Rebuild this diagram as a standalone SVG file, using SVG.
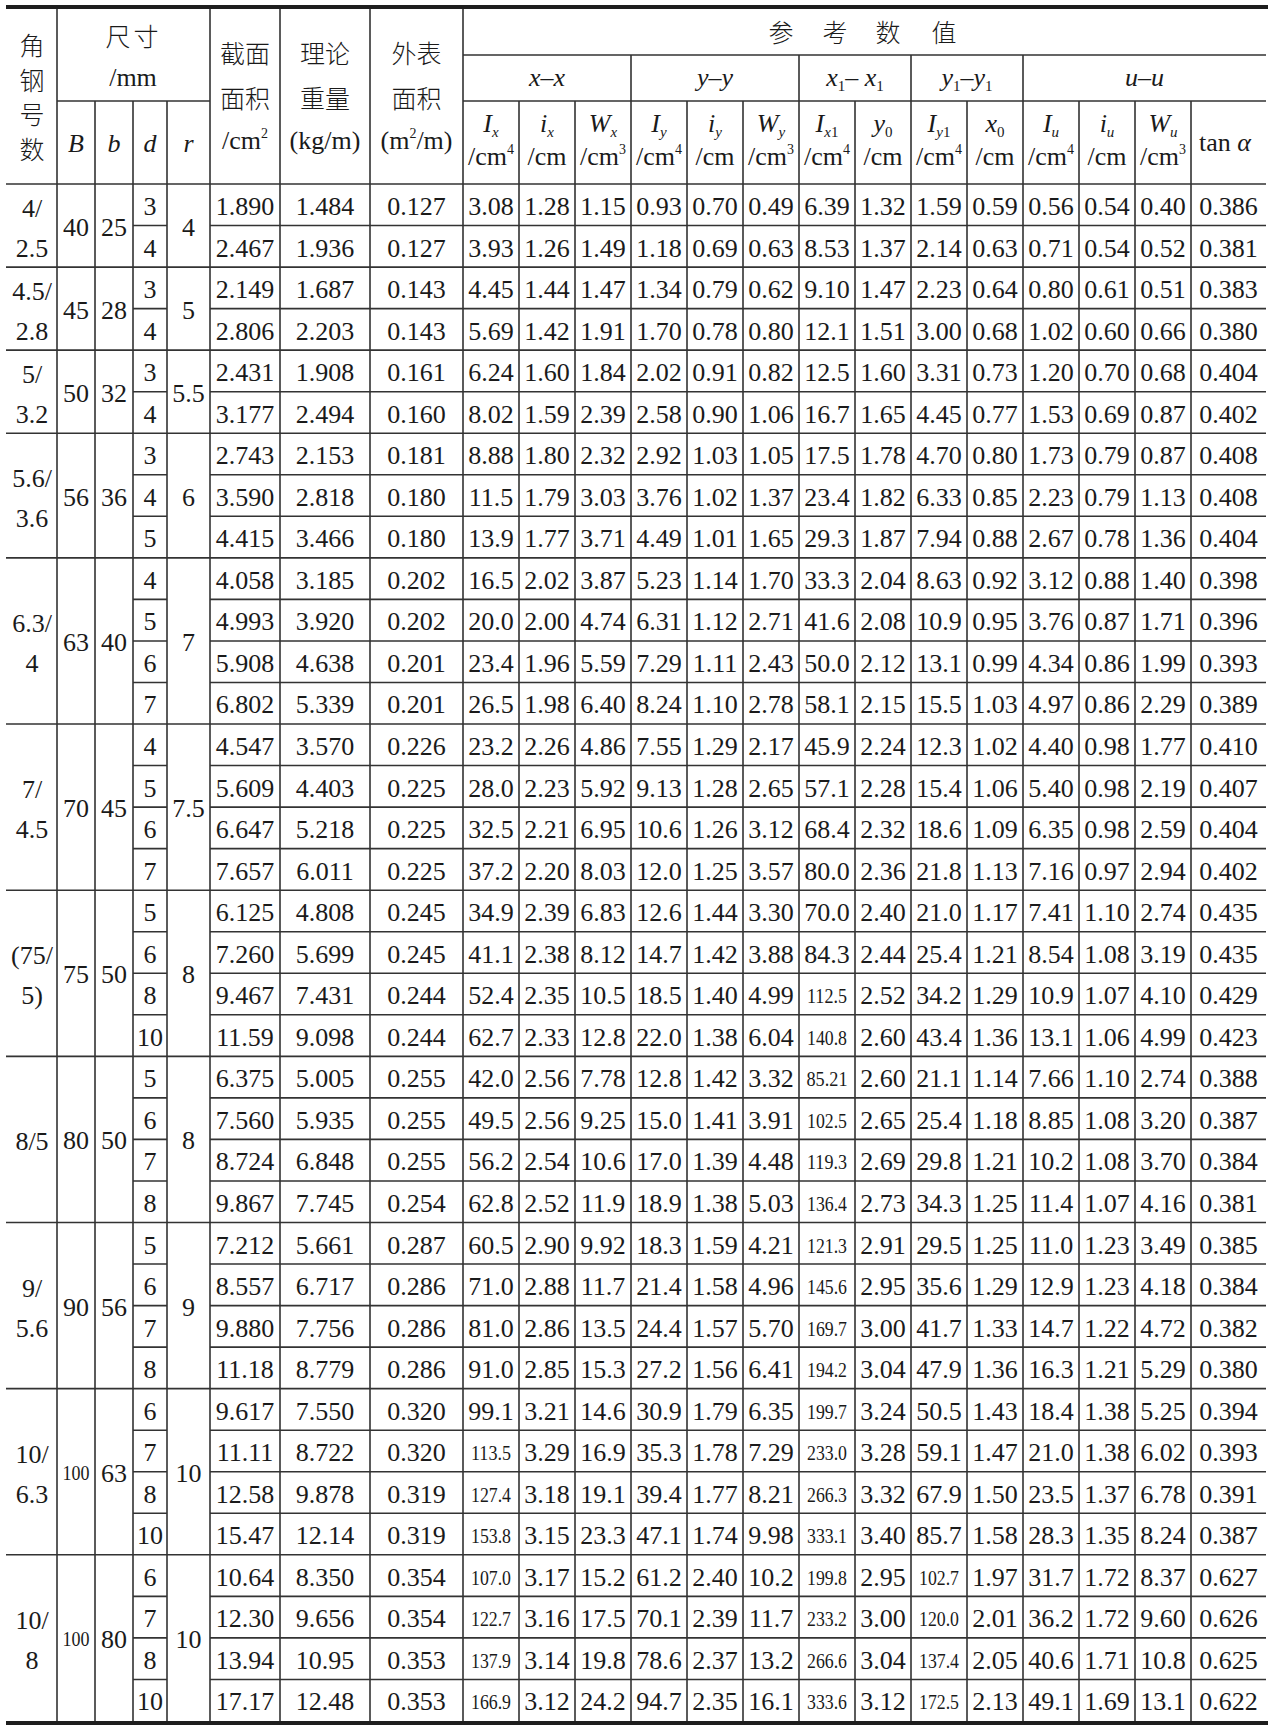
<svg xmlns="http://www.w3.org/2000/svg" width="1270" height="1727" viewBox="0 0 1270 1727">
<style>
text{font-family:"Liberation Serif","Noto Sans CJK SC",serif;font-size:26px;fill:#1a1a1a;text-anchor:middle}
.c{font-family:"Noto Sans CJK SC","Liberation Serif",sans-serif;font-size:25px;font-weight:300}
.i{font-style:italic}
.sb{font-size:15px}
.sp{font-size:14px}
.s{font-size:20px}
.ln{fill:none;stroke:#333;stroke-width:1.6}
.tk{fill:none;stroke:#1e1e1e;stroke-width:4}
</style>
<rect width="1270" height="1727" fill="#fff"/>
<g id="grid">
<path class="tk" d="M6 7H1268M6 1723H1268"/>
<path class="ln" d="M57 9V1721M95 101V1721M133 101V1721M167 101V1721M210 9V1721M280 9V1721M370 9V1721M463 9V1721M519 101V1721M575 101V1721M631 55V1721M687 101V1721M743 101V1721M799 55V1721M855 101V1721M911 55V1721M967 101V1721M1023 55V1721M1079 101V1721M1135 101V1721M1191 101V1721"/>
<path class="ln" d="M463 55H1266M57 101H210M463 101H1266M6 184H1266M6 267.08H1266M6 350.16H1266M6 433.24H1266M6 557.86H1266M6 724.02H1266M6 890.18H1266M6 1056.34H1266M6 1222.5H1266M6 1388.66H1266M6 1554.82H1266"/>
<path class="ln" d="M133 225.54H167M210 225.54H1266M133 308.62H167M210 308.62H1266M133 391.7H167M210 391.7H1266M133 474.78H167M210 474.78H1266M133 516.32H167M210 516.32H1266M133 599.4H167M210 599.4H1266M133 640.94H167M210 640.94H1266M133 682.48H167M210 682.48H1266M133 765.56H167M210 765.56H1266M133 807.1H167M210 807.1H1266M133 848.64H167M210 848.64H1266M133 931.72H167M210 931.72H1266M133 973.26H167M210 973.26H1266M133 1014.8H167M210 1014.8H1266M133 1097.88H167M210 1097.88H1266M133 1139.42H167M210 1139.42H1266M133 1180.96H167M210 1180.96H1266M133 1264.04H167M210 1264.04H1266M133 1305.58H167M210 1305.58H1266M133 1347.12H167M210 1347.12H1266M133 1430.2H167M210 1430.2H1266M133 1471.74H167M210 1471.74H1266M133 1513.28H167M210 1513.28H1266M133 1596.36H167M210 1596.36H1266M133 1637.9H167M210 1637.9H1266M133 1679.44H167M210 1679.44H1266"/>
</g>
<g id="header">
<g id="h-angle"><text class="c" x="32" y="55">角</text><text class="c" x="32" y="89.5">钢</text><text class="c" x="32" y="124">号</text><text class="c" x="32" y="158.5">数</text></g>
<g id="h-size"><text class="c" x="133.5" y="46" letter-spacing="3">尺寸</text><text x="133" y="86">/mm</text>
<text class="i" x="76" y="152">B</text><text class="i" x="114" y="152">b</text><text class="i" x="150" y="152">d</text><text class="i" x="188.5" y="152">r</text></g>
<g id="h-area"><text class="c" x="245" y="63">截面</text><text class="c" x="245" y="108">面积</text><text x="245" y="149">/cm<tspan class="sp" dy="-11">2</tspan></text></g>
<g id="h-weight"><text class="c" x="325" y="63">理论</text><text class="c" x="325" y="108">重量</text><text x="325" y="149">(kg/m)</text></g>
<g id="h-outer"><text class="c" x="416.5" y="63">外表</text><text class="c" x="416.5" y="108">面积</text><text x="416.5" y="149">(m<tspan class="sp" dy="-11">2</tspan><tspan dy="11">/m)</tspan></text></g>
<g id="h-ref"><text class="c" x="781 835 888 944" y="42">参考数值</text></g>
<g id="h-axes">
<text x="547" y="86"><tspan class="i">x</tspan>–<tspan class="i">x</tspan></text>
<text x="715" y="86"><tspan class="i">y</tspan>–<tspan class="i">y</tspan></text>
<text x="855" y="86"><tspan class="i">x</tspan><tspan class="sb" dy="5">1</tspan><tspan dy="-5">– </tspan><tspan class="i">x</tspan><tspan class="sb" dy="5">1</tspan></text>
<text x="967" y="86"><tspan class="i">y</tspan><tspan class="sb" dy="5">1</tspan><tspan dy="-5">–</tspan><tspan class="i">y</tspan><tspan class="sb" dy="5">1</tspan></text>
<text x="1144.5" y="86"><tspan class="i">u</tspan>–<tspan class="i">u</tspan></text>
</g>
<g id="h-sub">
<text x="491" y="132"><tspan class="i">I</tspan><tspan class="i sb" dy="5">x</tspan></text><text x="491" y="165">/cm<tspan class="sp" dy="-11">4</tspan></text>
<text x="547" y="132"><tspan class="i">i</tspan><tspan class="i sb" dy="5">x</tspan></text><text x="547" y="165">/cm</text>
<text x="603" y="132"><tspan class="i">W</tspan><tspan class="i sb" dy="5">x</tspan></text><text x="603" y="165">/cm<tspan class="sp" dy="-11">3</tspan></text>
<text x="659" y="132"><tspan class="i">I</tspan><tspan class="i sb" dy="5">y</tspan></text><text x="659" y="165">/cm<tspan class="sp" dy="-11">4</tspan></text>
<text x="715" y="132"><tspan class="i">i</tspan><tspan class="i sb" dy="5">y</tspan></text><text x="715" y="165">/cm</text>
<text x="771" y="132"><tspan class="i">W</tspan><tspan class="i sb" dy="5">y</tspan></text><text x="771" y="165">/cm<tspan class="sp" dy="-11">3</tspan></text>
<text x="827" y="132"><tspan class="i">I</tspan><tspan class="i sb" dy="5">x</tspan><tspan class="sb">1</tspan></text><text x="827" y="165">/cm<tspan class="sp" dy="-11">4</tspan></text>
<text x="883" y="132"><tspan class="i">y</tspan><tspan class="sb" dy="5">0</tspan></text><text x="883" y="165">/cm</text>
<text x="939" y="132"><tspan class="i">I</tspan><tspan class="i sb" dy="5">y</tspan><tspan class="sb">1</tspan></text><text x="939" y="165">/cm<tspan class="sp" dy="-11">4</tspan></text>
<text x="995" y="132"><tspan class="i">x</tspan><tspan class="sb" dy="5">0</tspan></text><text x="995" y="165">/cm</text>
<text x="1051" y="132"><tspan class="i">I</tspan><tspan class="i sb" dy="5">u</tspan></text><text x="1051" y="165">/cm<tspan class="sp" dy="-11">4</tspan></text>
<text x="1107" y="132"><tspan class="i">i</tspan><tspan class="i sb" dy="5">u</tspan></text><text x="1107" y="165">/cm</text>
<text x="1163" y="132"><tspan class="i">W</tspan><tspan class="i sb" dy="5">u</tspan></text><text x="1163" y="165">/cm<tspan class="sp" dy="-11">3</tspan></text>
<text x="1225" y="151">tan <tspan class="i">α</tspan></text>
</g>
</g>
<g id="groups">
<g id="g1"><text x="32" y="216.5">4/</text><text x="32" y="256.5">2.5</text><text x="76" y="235.5">40</text><text x="114" y="235.5">25</text><text x="188.5" y="235.5">4</text></g>
<g id="g2"><text x="32" y="299.6">4.5/</text><text x="32" y="339.6">2.8</text><text x="76" y="318.6">45</text><text x="114" y="318.6">28</text><text x="188.5" y="318.6">5</text></g>
<g id="g3"><text x="32" y="382.7">5/</text><text x="32" y="422.7">3.2</text><text x="76" y="401.7">50</text><text x="114" y="401.7">32</text><text x="188.5" y="401.7">5.5</text></g>
<g id="g4"><text x="32" y="486.5">5.6/</text><text x="32" y="526.5">3.6</text><text x="76" y="505.5">56</text><text x="114" y="505.5">36</text><text x="188.5" y="505.5">6</text></g>
<g id="g5"><text x="32" y="631.9">6.3/</text><text x="32" y="671.9">4</text><text x="76" y="650.9">63</text><text x="114" y="650.9">40</text><text x="188.5" y="650.9">7</text></g>
<g id="g6"><text x="32" y="798.1">7/</text><text x="32" y="838.1">4.5</text><text x="76" y="817.1">70</text><text x="114" y="817.1">45</text><text x="188.5" y="817.1">7.5</text></g>
<g id="g7"><text x="32" y="964.3">(75/</text><text x="32" y="1004.3">5)</text><text x="76" y="983.3">75</text><text x="114" y="983.3">50</text><text x="188.5" y="983.3">8</text></g>
<g id="g8"><text x="32" y="1149.9">8/5</text><text x="76" y="1149.4">80</text><text x="114" y="1149.4">50</text><text x="188.5" y="1149.4">8</text></g>
<g id="g9"><text x="32" y="1296.6">9/</text><text x="32" y="1336.6">5.6</text><text x="76" y="1315.6">90</text><text x="114" y="1315.6">56</text><text x="188.5" y="1315.6">9</text></g>
<g id="g10"><text x="32" y="1462.7">10/</text><text x="32" y="1502.7">6.3</text><text class="s" x="76" y="1479.7" textLength="27" lengthAdjust="spacingAndGlyphs">100</text><text x="114" y="1481.7">63</text><text x="188.5" y="1481.7">10</text></g>
<g id="g11"><text x="32" y="1628.9">10/</text><text x="32" y="1668.9">8</text><text class="s" x="76" y="1645.9" textLength="27" lengthAdjust="spacingAndGlyphs">100</text><text x="114" y="1647.9">80</text><text x="188.5" y="1647.9">10</text></g>
</g>
<g id="rows">
<g id="r0" transform="translate(0,184)"><text x="150" y="31">3</text><text x="245" y="31">1.890</text><text x="325" y="31">1.484</text><text x="416.5" y="31">0.127</text><text x="491" y="31">3.08</text><text x="547" y="31">1.28</text><text x="603" y="31">1.15</text><text x="659" y="31">0.93</text><text x="715" y="31">0.70</text><text x="771" y="31">0.49</text><text x="827" y="31">6.39</text><text x="883" y="31">1.32</text><text x="939" y="31">1.59</text><text x="995" y="31">0.59</text><text x="1051" y="31">0.56</text><text x="1107" y="31">0.54</text><text x="1163" y="31">0.40</text><text x="1228.5" y="31">0.386</text></g>
<g id="r1" transform="translate(0,225.54)"><text x="150" y="31">4</text><text x="245" y="31">2.467</text><text x="325" y="31">1.936</text><text x="416.5" y="31">0.127</text><text x="491" y="31">3.93</text><text x="547" y="31">1.26</text><text x="603" y="31">1.49</text><text x="659" y="31">1.18</text><text x="715" y="31">0.69</text><text x="771" y="31">0.63</text><text x="827" y="31">8.53</text><text x="883" y="31">1.37</text><text x="939" y="31">2.14</text><text x="995" y="31">0.63</text><text x="1051" y="31">0.71</text><text x="1107" y="31">0.54</text><text x="1163" y="31">0.52</text><text x="1228.5" y="31">0.381</text></g>
<g id="r2" transform="translate(0,267.08)"><text x="150" y="31">3</text><text x="245" y="31">2.149</text><text x="325" y="31">1.687</text><text x="416.5" y="31">0.143</text><text x="491" y="31">4.45</text><text x="547" y="31">1.44</text><text x="603" y="31">1.47</text><text x="659" y="31">1.34</text><text x="715" y="31">0.79</text><text x="771" y="31">0.62</text><text x="827" y="31">9.10</text><text x="883" y="31">1.47</text><text x="939" y="31">2.23</text><text x="995" y="31">0.64</text><text x="1051" y="31">0.80</text><text x="1107" y="31">0.61</text><text x="1163" y="31">0.51</text><text x="1228.5" y="31">0.383</text></g>
<g id="r3" transform="translate(0,308.62)"><text x="150" y="31">4</text><text x="245" y="31">2.806</text><text x="325" y="31">2.203</text><text x="416.5" y="31">0.143</text><text x="491" y="31">5.69</text><text x="547" y="31">1.42</text><text x="603" y="31">1.91</text><text x="659" y="31">1.70</text><text x="715" y="31">0.78</text><text x="771" y="31">0.80</text><text x="827" y="31">12.1</text><text x="883" y="31">1.51</text><text x="939" y="31">3.00</text><text x="995" y="31">0.68</text><text x="1051" y="31">1.02</text><text x="1107" y="31">0.60</text><text x="1163" y="31">0.66</text><text x="1228.5" y="31">0.380</text></g>
<g id="r4" transform="translate(0,350.16)"><text x="150" y="31">3</text><text x="245" y="31">2.431</text><text x="325" y="31">1.908</text><text x="416.5" y="31">0.161</text><text x="491" y="31">6.24</text><text x="547" y="31">1.60</text><text x="603" y="31">1.84</text><text x="659" y="31">2.02</text><text x="715" y="31">0.91</text><text x="771" y="31">0.82</text><text x="827" y="31">12.5</text><text x="883" y="31">1.60</text><text x="939" y="31">3.31</text><text x="995" y="31">0.73</text><text x="1051" y="31">1.20</text><text x="1107" y="31">0.70</text><text x="1163" y="31">0.68</text><text x="1228.5" y="31">0.404</text></g>
<g id="r5" transform="translate(0,391.7)"><text x="150" y="31">4</text><text x="245" y="31">3.177</text><text x="325" y="31">2.494</text><text x="416.5" y="31">0.160</text><text x="491" y="31">8.02</text><text x="547" y="31">1.59</text><text x="603" y="31">2.39</text><text x="659" y="31">2.58</text><text x="715" y="31">0.90</text><text x="771" y="31">1.06</text><text x="827" y="31">16.7</text><text x="883" y="31">1.65</text><text x="939" y="31">4.45</text><text x="995" y="31">0.77</text><text x="1051" y="31">1.53</text><text x="1107" y="31">0.69</text><text x="1163" y="31">0.87</text><text x="1228.5" y="31">0.402</text></g>
<g id="r6" transform="translate(0,433.24)"><text x="150" y="31">3</text><text x="245" y="31">2.743</text><text x="325" y="31">2.153</text><text x="416.5" y="31">0.181</text><text x="491" y="31">8.88</text><text x="547" y="31">1.80</text><text x="603" y="31">2.32</text><text x="659" y="31">2.92</text><text x="715" y="31">1.03</text><text x="771" y="31">1.05</text><text x="827" y="31">17.5</text><text x="883" y="31">1.78</text><text x="939" y="31">4.70</text><text x="995" y="31">0.80</text><text x="1051" y="31">1.73</text><text x="1107" y="31">0.79</text><text x="1163" y="31">0.87</text><text x="1228.5" y="31">0.408</text></g>
<g id="r7" transform="translate(0,474.78)"><text x="150" y="31">4</text><text x="245" y="31">3.590</text><text x="325" y="31">2.818</text><text x="416.5" y="31">0.180</text><text x="491" y="31">11.5</text><text x="547" y="31">1.79</text><text x="603" y="31">3.03</text><text x="659" y="31">3.76</text><text x="715" y="31">1.02</text><text x="771" y="31">1.37</text><text x="827" y="31">23.4</text><text x="883" y="31">1.82</text><text x="939" y="31">6.33</text><text x="995" y="31">0.85</text><text x="1051" y="31">2.23</text><text x="1107" y="31">0.79</text><text x="1163" y="31">1.13</text><text x="1228.5" y="31">0.408</text></g>
<g id="r8" transform="translate(0,516.32)"><text x="150" y="31">5</text><text x="245" y="31">4.415</text><text x="325" y="31">3.466</text><text x="416.5" y="31">0.180</text><text x="491" y="31">13.9</text><text x="547" y="31">1.77</text><text x="603" y="31">3.71</text><text x="659" y="31">4.49</text><text x="715" y="31">1.01</text><text x="771" y="31">1.65</text><text x="827" y="31">29.3</text><text x="883" y="31">1.87</text><text x="939" y="31">7.94</text><text x="995" y="31">0.88</text><text x="1051" y="31">2.67</text><text x="1107" y="31">0.78</text><text x="1163" y="31">1.36</text><text x="1228.5" y="31">0.404</text></g>
<g id="r9" transform="translate(0,557.86)"><text x="150" y="31">4</text><text x="245" y="31">4.058</text><text x="325" y="31">3.185</text><text x="416.5" y="31">0.202</text><text x="491" y="31">16.5</text><text x="547" y="31">2.02</text><text x="603" y="31">3.87</text><text x="659" y="31">5.23</text><text x="715" y="31">1.14</text><text x="771" y="31">1.70</text><text x="827" y="31">33.3</text><text x="883" y="31">2.04</text><text x="939" y="31">8.63</text><text x="995" y="31">0.92</text><text x="1051" y="31">3.12</text><text x="1107" y="31">0.88</text><text x="1163" y="31">1.40</text><text x="1228.5" y="31">0.398</text></g>
<g id="r10" transform="translate(0,599.4)"><text x="150" y="31">5</text><text x="245" y="31">4.993</text><text x="325" y="31">3.920</text><text x="416.5" y="31">0.202</text><text x="491" y="31">20.0</text><text x="547" y="31">2.00</text><text x="603" y="31">4.74</text><text x="659" y="31">6.31</text><text x="715" y="31">1.12</text><text x="771" y="31">2.71</text><text x="827" y="31">41.6</text><text x="883" y="31">2.08</text><text x="939" y="31">10.9</text><text x="995" y="31">0.95</text><text x="1051" y="31">3.76</text><text x="1107" y="31">0.87</text><text x="1163" y="31">1.71</text><text x="1228.5" y="31">0.396</text></g>
<g id="r11" transform="translate(0,640.94)"><text x="150" y="31">6</text><text x="245" y="31">5.908</text><text x="325" y="31">4.638</text><text x="416.5" y="31">0.201</text><text x="491" y="31">23.4</text><text x="547" y="31">1.96</text><text x="603" y="31">5.59</text><text x="659" y="31">7.29</text><text x="715" y="31">1.11</text><text x="771" y="31">2.43</text><text x="827" y="31">50.0</text><text x="883" y="31">2.12</text><text x="939" y="31">13.1</text><text x="995" y="31">0.99</text><text x="1051" y="31">4.34</text><text x="1107" y="31">0.86</text><text x="1163" y="31">1.99</text><text x="1228.5" y="31">0.393</text></g>
<g id="r12" transform="translate(0,682.48)"><text x="150" y="31">7</text><text x="245" y="31">6.802</text><text x="325" y="31">5.339</text><text x="416.5" y="31">0.201</text><text x="491" y="31">26.5</text><text x="547" y="31">1.98</text><text x="603" y="31">6.40</text><text x="659" y="31">8.24</text><text x="715" y="31">1.10</text><text x="771" y="31">2.78</text><text x="827" y="31">58.1</text><text x="883" y="31">2.15</text><text x="939" y="31">15.5</text><text x="995" y="31">1.03</text><text x="1051" y="31">4.97</text><text x="1107" y="31">0.86</text><text x="1163" y="31">2.29</text><text x="1228.5" y="31">0.389</text></g>
<g id="r13" transform="translate(0,724.02)"><text x="150" y="31">4</text><text x="245" y="31">4.547</text><text x="325" y="31">3.570</text><text x="416.5" y="31">0.226</text><text x="491" y="31">23.2</text><text x="547" y="31">2.26</text><text x="603" y="31">4.86</text><text x="659" y="31">7.55</text><text x="715" y="31">1.29</text><text x="771" y="31">2.17</text><text x="827" y="31">45.9</text><text x="883" y="31">2.24</text><text x="939" y="31">12.3</text><text x="995" y="31">1.02</text><text x="1051" y="31">4.40</text><text x="1107" y="31">0.98</text><text x="1163" y="31">1.77</text><text x="1228.5" y="31">0.410</text></g>
<g id="r14" transform="translate(0,765.56)"><text x="150" y="31">5</text><text x="245" y="31">5.609</text><text x="325" y="31">4.403</text><text x="416.5" y="31">0.225</text><text x="491" y="31">28.0</text><text x="547" y="31">2.23</text><text x="603" y="31">5.92</text><text x="659" y="31">9.13</text><text x="715" y="31">1.28</text><text x="771" y="31">2.65</text><text x="827" y="31">57.1</text><text x="883" y="31">2.28</text><text x="939" y="31">15.4</text><text x="995" y="31">1.06</text><text x="1051" y="31">5.40</text><text x="1107" y="31">0.98</text><text x="1163" y="31">2.19</text><text x="1228.5" y="31">0.407</text></g>
<g id="r15" transform="translate(0,807.1)"><text x="150" y="31">6</text><text x="245" y="31">6.647</text><text x="325" y="31">5.218</text><text x="416.5" y="31">0.225</text><text x="491" y="31">32.5</text><text x="547" y="31">2.21</text><text x="603" y="31">6.95</text><text x="659" y="31">10.6</text><text x="715" y="31">1.26</text><text x="771" y="31">3.12</text><text x="827" y="31">68.4</text><text x="883" y="31">2.32</text><text x="939" y="31">18.6</text><text x="995" y="31">1.09</text><text x="1051" y="31">6.35</text><text x="1107" y="31">0.98</text><text x="1163" y="31">2.59</text><text x="1228.5" y="31">0.404</text></g>
<g id="r16" transform="translate(0,848.64)"><text x="150" y="31">7</text><text x="245" y="31">7.657</text><text x="325" y="31">6.011</text><text x="416.5" y="31">0.225</text><text x="491" y="31">37.2</text><text x="547" y="31">2.20</text><text x="603" y="31">8.03</text><text x="659" y="31">12.0</text><text x="715" y="31">1.25</text><text x="771" y="31">3.57</text><text x="827" y="31">80.0</text><text x="883" y="31">2.36</text><text x="939" y="31">21.8</text><text x="995" y="31">1.13</text><text x="1051" y="31">7.16</text><text x="1107" y="31">0.97</text><text x="1163" y="31">2.94</text><text x="1228.5" y="31">0.402</text></g>
<g id="r17" transform="translate(0,890.18)"><text x="150" y="31">5</text><text x="245" y="31">6.125</text><text x="325" y="31">4.808</text><text x="416.5" y="31">0.245</text><text x="491" y="31">34.9</text><text x="547" y="31">2.39</text><text x="603" y="31">6.83</text><text x="659" y="31">12.6</text><text x="715" y="31">1.44</text><text x="771" y="31">3.30</text><text x="827" y="31">70.0</text><text x="883" y="31">2.40</text><text x="939" y="31">21.0</text><text x="995" y="31">1.17</text><text x="1051" y="31">7.41</text><text x="1107" y="31">1.10</text><text x="1163" y="31">2.74</text><text x="1228.5" y="31">0.435</text></g>
<g id="r18" transform="translate(0,931.72)"><text x="150" y="31">6</text><text x="245" y="31">7.260</text><text x="325" y="31">5.699</text><text x="416.5" y="31">0.245</text><text x="491" y="31">41.1</text><text x="547" y="31">2.38</text><text x="603" y="31">8.12</text><text x="659" y="31">14.7</text><text x="715" y="31">1.42</text><text x="771" y="31">3.88</text><text x="827" y="31">84.3</text><text x="883" y="31">2.44</text><text x="939" y="31">25.4</text><text x="995" y="31">1.21</text><text x="1051" y="31">8.54</text><text x="1107" y="31">1.08</text><text x="1163" y="31">3.19</text><text x="1228.5" y="31">0.435</text></g>
<g id="r19" transform="translate(0,973.26)"><text x="150" y="31">8</text><text x="245" y="31">9.467</text><text x="325" y="31">7.431</text><text x="416.5" y="31">0.244</text><text x="491" y="31">52.4</text><text x="547" y="31">2.35</text><text x="603" y="31">10.5</text><text x="659" y="31">18.5</text><text x="715" y="31">1.40</text><text x="771" y="31">4.99</text><text class="s" x="827" y="30" textLength="40" lengthAdjust="spacingAndGlyphs">112.5</text><text x="883" y="31">2.52</text><text x="939" y="31">34.2</text><text x="995" y="31">1.29</text><text x="1051" y="31">10.9</text><text x="1107" y="31">1.07</text><text x="1163" y="31">4.10</text><text x="1228.5" y="31">0.429</text></g>
<g id="r20" transform="translate(0,1014.8)"><text x="150" y="31">10</text><text x="245" y="31">11.59</text><text x="325" y="31">9.098</text><text x="416.5" y="31">0.244</text><text x="491" y="31">62.7</text><text x="547" y="31">2.33</text><text x="603" y="31">12.8</text><text x="659" y="31">22.0</text><text x="715" y="31">1.38</text><text x="771" y="31">6.04</text><text class="s" x="827" y="30" textLength="40" lengthAdjust="spacingAndGlyphs">140.8</text><text x="883" y="31">2.60</text><text x="939" y="31">43.4</text><text x="995" y="31">1.36</text><text x="1051" y="31">13.1</text><text x="1107" y="31">1.06</text><text x="1163" y="31">4.99</text><text x="1228.5" y="31">0.423</text></g>
<g id="r21" transform="translate(0,1056.34)"><text x="150" y="31">5</text><text x="245" y="31">6.375</text><text x="325" y="31">5.005</text><text x="416.5" y="31">0.255</text><text x="491" y="31">42.0</text><text x="547" y="31">2.56</text><text x="603" y="31">7.78</text><text x="659" y="31">12.8</text><text x="715" y="31">1.42</text><text x="771" y="31">3.32</text><text class="s" x="827" y="30" textLength="41" lengthAdjust="spacingAndGlyphs">85.21</text><text x="883" y="31">2.60</text><text x="939" y="31">21.1</text><text x="995" y="31">1.14</text><text x="1051" y="31">7.66</text><text x="1107" y="31">1.10</text><text x="1163" y="31">2.74</text><text x="1228.5" y="31">0.388</text></g>
<g id="r22" transform="translate(0,1097.88)"><text x="150" y="31">6</text><text x="245" y="31">7.560</text><text x="325" y="31">5.935</text><text x="416.5" y="31">0.255</text><text x="491" y="31">49.5</text><text x="547" y="31">2.56</text><text x="603" y="31">9.25</text><text x="659" y="31">15.0</text><text x="715" y="31">1.41</text><text x="771" y="31">3.91</text><text class="s" x="827" y="30" textLength="40" lengthAdjust="spacingAndGlyphs">102.5</text><text x="883" y="31">2.65</text><text x="939" y="31">25.4</text><text x="995" y="31">1.18</text><text x="1051" y="31">8.85</text><text x="1107" y="31">1.08</text><text x="1163" y="31">3.20</text><text x="1228.5" y="31">0.387</text></g>
<g id="r23" transform="translate(0,1139.42)"><text x="150" y="31">7</text><text x="245" y="31">8.724</text><text x="325" y="31">6.848</text><text x="416.5" y="31">0.255</text><text x="491" y="31">56.2</text><text x="547" y="31">2.54</text><text x="603" y="31">10.6</text><text x="659" y="31">17.0</text><text x="715" y="31">1.39</text><text x="771" y="31">4.48</text><text class="s" x="827" y="30" textLength="40" lengthAdjust="spacingAndGlyphs">119.3</text><text x="883" y="31">2.69</text><text x="939" y="31">29.8</text><text x="995" y="31">1.21</text><text x="1051" y="31">10.2</text><text x="1107" y="31">1.08</text><text x="1163" y="31">3.70</text><text x="1228.5" y="31">0.384</text></g>
<g id="r24" transform="translate(0,1180.96)"><text x="150" y="31">8</text><text x="245" y="31">9.867</text><text x="325" y="31">7.745</text><text x="416.5" y="31">0.254</text><text x="491" y="31">62.8</text><text x="547" y="31">2.52</text><text x="603" y="31">11.9</text><text x="659" y="31">18.9</text><text x="715" y="31">1.38</text><text x="771" y="31">5.03</text><text class="s" x="827" y="30" textLength="40" lengthAdjust="spacingAndGlyphs">136.4</text><text x="883" y="31">2.73</text><text x="939" y="31">34.3</text><text x="995" y="31">1.25</text><text x="1051" y="31">11.4</text><text x="1107" y="31">1.07</text><text x="1163" y="31">4.16</text><text x="1228.5" y="31">0.381</text></g>
<g id="r25" transform="translate(0,1222.5)"><text x="150" y="31">5</text><text x="245" y="31">7.212</text><text x="325" y="31">5.661</text><text x="416.5" y="31">0.287</text><text x="491" y="31">60.5</text><text x="547" y="31">2.90</text><text x="603" y="31">9.92</text><text x="659" y="31">18.3</text><text x="715" y="31">1.59</text><text x="771" y="31">4.21</text><text class="s" x="827" y="30" textLength="40" lengthAdjust="spacingAndGlyphs">121.3</text><text x="883" y="31">2.91</text><text x="939" y="31">29.5</text><text x="995" y="31">1.25</text><text x="1051" y="31">11.0</text><text x="1107" y="31">1.23</text><text x="1163" y="31">3.49</text><text x="1228.5" y="31">0.385</text></g>
<g id="r26" transform="translate(0,1264.04)"><text x="150" y="31">6</text><text x="245" y="31">8.557</text><text x="325" y="31">6.717</text><text x="416.5" y="31">0.286</text><text x="491" y="31">71.0</text><text x="547" y="31">2.88</text><text x="603" y="31">11.7</text><text x="659" y="31">21.4</text><text x="715" y="31">1.58</text><text x="771" y="31">4.96</text><text class="s" x="827" y="30" textLength="40" lengthAdjust="spacingAndGlyphs">145.6</text><text x="883" y="31">2.95</text><text x="939" y="31">35.6</text><text x="995" y="31">1.29</text><text x="1051" y="31">12.9</text><text x="1107" y="31">1.23</text><text x="1163" y="31">4.18</text><text x="1228.5" y="31">0.384</text></g>
<g id="r27" transform="translate(0,1305.58)"><text x="150" y="31">7</text><text x="245" y="31">9.880</text><text x="325" y="31">7.756</text><text x="416.5" y="31">0.286</text><text x="491" y="31">81.0</text><text x="547" y="31">2.86</text><text x="603" y="31">13.5</text><text x="659" y="31">24.4</text><text x="715" y="31">1.57</text><text x="771" y="31">5.70</text><text class="s" x="827" y="30" textLength="40" lengthAdjust="spacingAndGlyphs">169.7</text><text x="883" y="31">3.00</text><text x="939" y="31">41.7</text><text x="995" y="31">1.33</text><text x="1051" y="31">14.7</text><text x="1107" y="31">1.22</text><text x="1163" y="31">4.72</text><text x="1228.5" y="31">0.382</text></g>
<g id="r28" transform="translate(0,1347.12)"><text x="150" y="31">8</text><text x="245" y="31">11.18</text><text x="325" y="31">8.779</text><text x="416.5" y="31">0.286</text><text x="491" y="31">91.0</text><text x="547" y="31">2.85</text><text x="603" y="31">15.3</text><text x="659" y="31">27.2</text><text x="715" y="31">1.56</text><text x="771" y="31">6.41</text><text class="s" x="827" y="30" textLength="40" lengthAdjust="spacingAndGlyphs">194.2</text><text x="883" y="31">3.04</text><text x="939" y="31">47.9</text><text x="995" y="31">1.36</text><text x="1051" y="31">16.3</text><text x="1107" y="31">1.21</text><text x="1163" y="31">5.29</text><text x="1228.5" y="31">0.380</text></g>
<g id="r29" transform="translate(0,1388.66)"><text x="150" y="31">6</text><text x="245" y="31">9.617</text><text x="325" y="31">7.550</text><text x="416.5" y="31">0.320</text><text x="491" y="31">99.1</text><text x="547" y="31">3.21</text><text x="603" y="31">14.6</text><text x="659" y="31">30.9</text><text x="715" y="31">1.79</text><text x="771" y="31">6.35</text><text class="s" x="827" y="30" textLength="40" lengthAdjust="spacingAndGlyphs">199.7</text><text x="883" y="31">3.24</text><text x="939" y="31">50.5</text><text x="995" y="31">1.43</text><text x="1051" y="31">18.4</text><text x="1107" y="31">1.38</text><text x="1163" y="31">5.25</text><text x="1228.5" y="31">0.394</text></g>
<g id="r30" transform="translate(0,1430.2)"><text x="150" y="31">7</text><text x="245" y="31">11.11</text><text x="325" y="31">8.722</text><text x="416.5" y="31">0.320</text><text class="s" x="491" y="30" textLength="40" lengthAdjust="spacingAndGlyphs">113.5</text><text x="547" y="31">3.29</text><text x="603" y="31">16.9</text><text x="659" y="31">35.3</text><text x="715" y="31">1.78</text><text x="771" y="31">7.29</text><text class="s" x="827" y="30" textLength="40" lengthAdjust="spacingAndGlyphs">233.0</text><text x="883" y="31">3.28</text><text x="939" y="31">59.1</text><text x="995" y="31">1.47</text><text x="1051" y="31">21.0</text><text x="1107" y="31">1.38</text><text x="1163" y="31">6.02</text><text x="1228.5" y="31">0.393</text></g>
<g id="r31" transform="translate(0,1471.74)"><text x="150" y="31">8</text><text x="245" y="31">12.58</text><text x="325" y="31">9.878</text><text x="416.5" y="31">0.319</text><text class="s" x="491" y="30" textLength="40" lengthAdjust="spacingAndGlyphs">127.4</text><text x="547" y="31">3.18</text><text x="603" y="31">19.1</text><text x="659" y="31">39.4</text><text x="715" y="31">1.77</text><text x="771" y="31">8.21</text><text class="s" x="827" y="30" textLength="40" lengthAdjust="spacingAndGlyphs">266.3</text><text x="883" y="31">3.32</text><text x="939" y="31">67.9</text><text x="995" y="31">1.50</text><text x="1051" y="31">23.5</text><text x="1107" y="31">1.37</text><text x="1163" y="31">6.78</text><text x="1228.5" y="31">0.391</text></g>
<g id="r32" transform="translate(0,1513.28)"><text x="150" y="31">10</text><text x="245" y="31">15.47</text><text x="325" y="31">12.14</text><text x="416.5" y="31">0.319</text><text class="s" x="491" y="30" textLength="40" lengthAdjust="spacingAndGlyphs">153.8</text><text x="547" y="31">3.15</text><text x="603" y="31">23.3</text><text x="659" y="31">47.1</text><text x="715" y="31">1.74</text><text x="771" y="31">9.98</text><text class="s" x="827" y="30" textLength="40" lengthAdjust="spacingAndGlyphs">333.1</text><text x="883" y="31">3.40</text><text x="939" y="31">85.7</text><text x="995" y="31">1.58</text><text x="1051" y="31">28.3</text><text x="1107" y="31">1.35</text><text x="1163" y="31">8.24</text><text x="1228.5" y="31">0.387</text></g>
<g id="r33" transform="translate(0,1554.82)"><text x="150" y="31">6</text><text x="245" y="31">10.64</text><text x="325" y="31">8.350</text><text x="416.5" y="31">0.354</text><text class="s" x="491" y="30" textLength="40" lengthAdjust="spacingAndGlyphs">107.0</text><text x="547" y="31">3.17</text><text x="603" y="31">15.2</text><text x="659" y="31">61.2</text><text x="715" y="31">2.40</text><text x="771" y="31">10.2</text><text class="s" x="827" y="30" textLength="40" lengthAdjust="spacingAndGlyphs">199.8</text><text x="883" y="31">2.95</text><text class="s" x="939" y="30" textLength="40" lengthAdjust="spacingAndGlyphs">102.7</text><text x="995" y="31">1.97</text><text x="1051" y="31">31.7</text><text x="1107" y="31">1.72</text><text x="1163" y="31">8.37</text><text x="1228.5" y="31">0.627</text></g>
<g id="r34" transform="translate(0,1596.36)"><text x="150" y="31">7</text><text x="245" y="31">12.30</text><text x="325" y="31">9.656</text><text x="416.5" y="31">0.354</text><text class="s" x="491" y="30" textLength="40" lengthAdjust="spacingAndGlyphs">122.7</text><text x="547" y="31">3.16</text><text x="603" y="31">17.5</text><text x="659" y="31">70.1</text><text x="715" y="31">2.39</text><text x="771" y="31">11.7</text><text class="s" x="827" y="30" textLength="40" lengthAdjust="spacingAndGlyphs">233.2</text><text x="883" y="31">3.00</text><text class="s" x="939" y="30" textLength="40" lengthAdjust="spacingAndGlyphs">120.0</text><text x="995" y="31">2.01</text><text x="1051" y="31">36.2</text><text x="1107" y="31">1.72</text><text x="1163" y="31">9.60</text><text x="1228.5" y="31">0.626</text></g>
<g id="r35" transform="translate(0,1637.9)"><text x="150" y="31">8</text><text x="245" y="31">13.94</text><text x="325" y="31">10.95</text><text x="416.5" y="31">0.353</text><text class="s" x="491" y="30" textLength="40" lengthAdjust="spacingAndGlyphs">137.9</text><text x="547" y="31">3.14</text><text x="603" y="31">19.8</text><text x="659" y="31">78.6</text><text x="715" y="31">2.37</text><text x="771" y="31">13.2</text><text class="s" x="827" y="30" textLength="40" lengthAdjust="spacingAndGlyphs">266.6</text><text x="883" y="31">3.04</text><text class="s" x="939" y="30" textLength="40" lengthAdjust="spacingAndGlyphs">137.4</text><text x="995" y="31">2.05</text><text x="1051" y="31">40.6</text><text x="1107" y="31">1.71</text><text x="1163" y="31">10.8</text><text x="1228.5" y="31">0.625</text></g>
<g id="r36" transform="translate(0,1679.44)"><text x="150" y="31">10</text><text x="245" y="31">17.17</text><text x="325" y="31">12.48</text><text x="416.5" y="31">0.353</text><text class="s" x="491" y="30" textLength="40" lengthAdjust="spacingAndGlyphs">166.9</text><text x="547" y="31">3.12</text><text x="603" y="31">24.2</text><text x="659" y="31">94.7</text><text x="715" y="31">2.35</text><text x="771" y="31">16.1</text><text class="s" x="827" y="30" textLength="40" lengthAdjust="spacingAndGlyphs">333.6</text><text x="883" y="31">3.12</text><text class="s" x="939" y="30" textLength="40" lengthAdjust="spacingAndGlyphs">172.5</text><text x="995" y="31">2.13</text><text x="1051" y="31">49.1</text><text x="1107" y="31">1.69</text><text x="1163" y="31">13.1</text><text x="1228.5" y="31">0.622</text></g>
</g>
</svg>
